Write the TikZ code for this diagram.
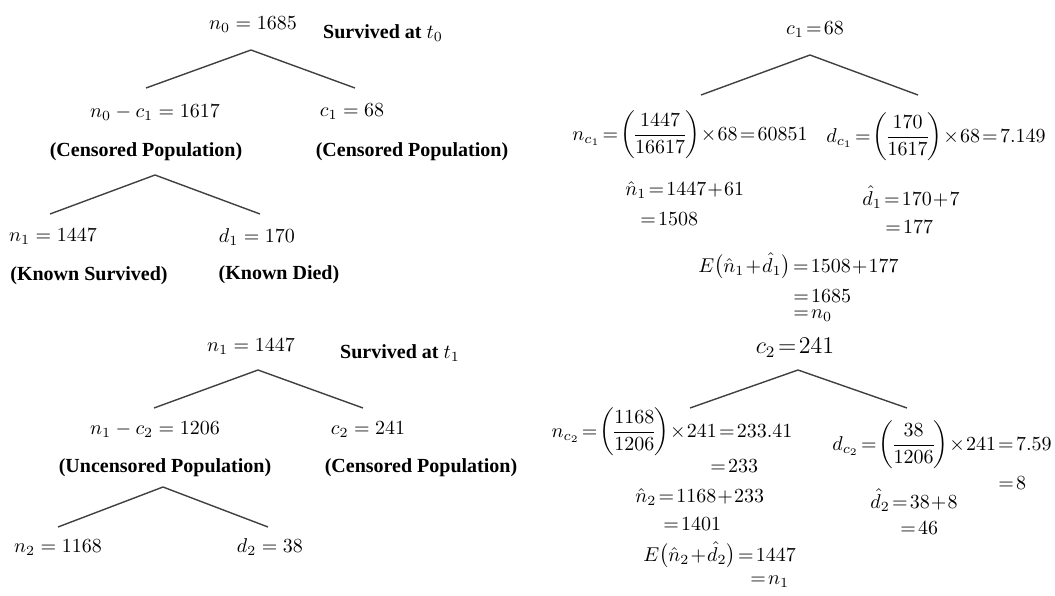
\documentclass[tikz,border=0pt]{standalone}
\usepackage{amsmath}
\usepackage{fontspec}
\setmainfont{Liberation Serif}
\begin{document}
\begin{tikzpicture}[x=0.5pt, y=-0.5pt,
    lbl/.style={font=\bfseries, inner sep=1pt},
    val/.style={inner sep=0pt},
    tight/.style={val, execute at begin node={\thickmuskip=2mu\medmuskip=1mu\nulldelimiterspace=0pt}},
    branch/.style={draw=black!75, line width=0.7pt}
  ]
  \useasboundingbox (0,0) rectangle (1055,595);

  % survived at t0
  \node[val] (n0) at (253,25) {$n_0 = 1685$};
  \node[lbl] (s0) at (383,33) {Survived at $t_0$};
  \coordinate (t0) at (251,50);
  \coordinate (t0l) at (146,88);
  \coordinate (t0r) at (355,88);
  \draw[branch] (t0l) -- (t0) -- (t0r);
  \node[val] (u1) at (155,113) {$n_0 - c_1 = 1617$};
  \node[val] (c1) at (352,112) {$c_1 = 68$};
  \node[lbl] (u1p) at (146,152) {(Censored Population)};
  \node[lbl] (c1p) at (412,152) {(Censored Population)};
  \coordinate (t1) at (155,175);
  \coordinate (t1l) at (50,214);
  \coordinate (t1r) at (260,214);
  \draw[branch] (t1l) -- (t1) -- (t1r);
  \node[val] (n1) at (53,237) {$n_1 = 1447$};
  \node[val] (d1) at (257,237) {$d_1 = 170$};
  \node[lbl] (n1p) at (89,276) {(Known Survived)};
  \node[lbl] (d1p) at (279,275) {(Known Died)};

  % survived at t1
  \node[val] (m1) at (251,347) {$n_1 = 1447$};
  \node[lbl] (s1) at (400,353) {Survived at $t_1$};
  \coordinate (t2) at (258,370);
  \coordinate (t2l) at (154,408);
  \coordinate (t2r) at (363,408);
  \draw[branch] (t2l) -- (t2) -- (t2r);
  \node[val] (u2) at (155,430) {$n_1 - c_2 = 1206$};
  \node[val] (c2) at (368,430) {$c_2 = 241$};
  \node[lbl] (u2p) at (165,468) {(Uncensored Population)};
  \node[lbl] (c2p) at (421,468) {(Censored Population)};
  \coordinate (t3) at (163,487);
  \coordinate (t3l) at (58,527);
  \coordinate (t3r) at (268,527);
  \draw[branch] (t3l) -- (t3) -- (t3r);
  \node[val] (n2) at (58,548) {$n_2 = 1168$};
  \node[val] (d2) at (270,547) {$d_2 = 38$};

  % censored c1
  \node[tight] (k1) at (815,30) {$c_1 = 68$};
  \coordinate (t4) at (810,55);
  \coordinate (t4l) at (701,95);
  \coordinate (t4r) at (918,95);
  \draw[branch] (t4l) -- (t4) -- (t4r);
  \node[tight] (nc1) at (690,135) {$n_{c_1} = \left(\dfrac{1447}{16617}\right)\times 68 = 60851$};
  \node[tight] (dc1) at (936,137) {$d_{c_1} = \left(\dfrac{170}{1617}\right)\times 68 = 7.149$};
  \node[tight, anchor=west] (nh1) at (625,190) {$\hat{n}_1 = 1447 + 61$};
  \node[tight, anchor=west] (nh1b) at (640,219) {$= 1508$};
  \node[tight, anchor=west] (dh1) at (862,197) {$\hat{d}_1 = 170 + 7$};
  \node[tight, anchor=west] (dh1b) at (885,227) {$= 177$};
  \node[tight, anchor=west] (e1) at (698,266) {$E\bigl(\hat{n}_1 + \hat{d}_1\bigr) = 1508 + 177$};
  \node[tight, anchor=west] (e1b) at (793,296) {$= 1685$};
  \node[tight, anchor=west] (e1c) at (793,316) {$= n_0$};

  % censored c2
  \node[tight, font=\large] (k2) at (795,348) {$c_2 = 241$};
  \coordinate (t5) at (798,370);
  \coordinate (t5l) at (690,408);
  \coordinate (t5r) at (907,408);
  \draw[branch] (t5l) -- (t5) -- (t5r);
  \node[tight] (nc2) at (672,432) {$n_{c_2} = \left(\dfrac{1168}{1206}\right)\times 241 = 233.41$};
  \node[tight, anchor=west] (nc2b) at (710,466) {$= 233$};
  \node[tight, anchor=west] (nh2) at (635,497) {$\hat{n}_2 = 1168 + 233$};
  \node[tight, anchor=west] (nh2b) at (663,524) {$= 1401$};
  \node[tight, anchor=west] (e2) at (643,555) {$E\bigl(\hat{n}_2 + \hat{d}_2\bigr) = 1447$};
  \node[tight, anchor=west] (e2b) at (750,582) {$= n_1$};
  \node[tight] (dc2) at (942,445) {$d_{c_2} = \left(\dfrac{38}{1206}\right)\times 241 = 7.59$};
  \node[tight, anchor=west] (dc2b) at (998,483) {$= 8$};
  \node[tight, anchor=west] (dh2) at (870,500) {$\hat{d}_2 = 38 + 8$};
  \node[tight, anchor=west] (dh2b) at (900,528) {$= 46$};
\end{tikzpicture}
\end{document}
